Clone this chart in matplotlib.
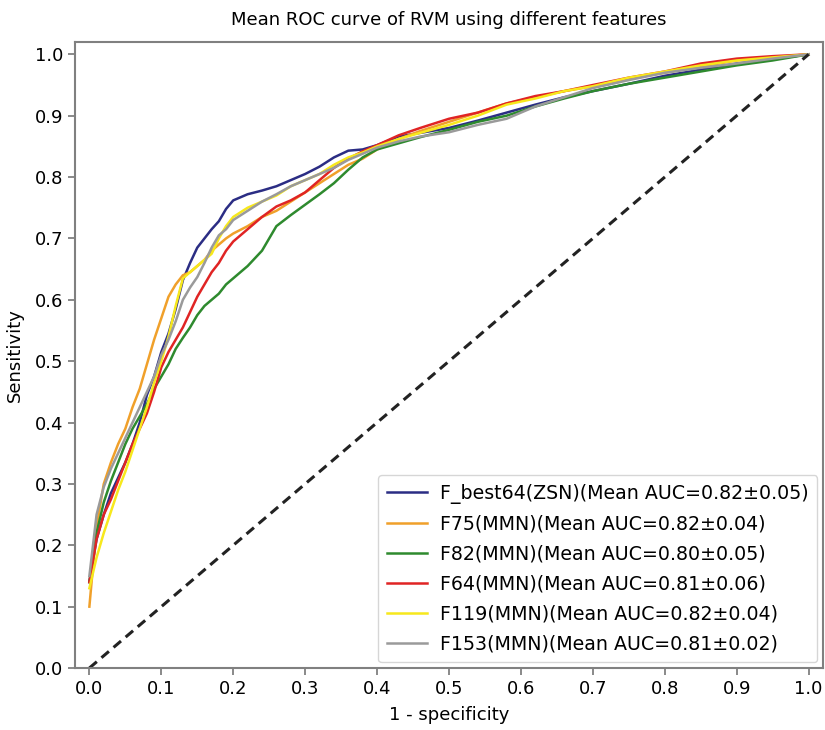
import matplotlib
matplotlib.use("Agg")
import matplotlib.pyplot as plt

plt.rcParams['font.family'] = ['DejaVu Sans']

# common false positive rate grid (1 - specificity)
fpr = [0, .01, .02, .03, .04, .05, .06, .07, .08, .09, .10, .11, .12, .13, .14,
       .15, .16, .17, .18, .19, .20, .22, .24, .26, .28, .30, .32, .34, .36, .38,
       .40, .43, .46, .50, .54, .58, .62, .66, .70, .75, .80, .85, .90, .95, 1.0]

tpr_best64 = [0.14, 0.21, 0.25, 0.285, 0.31, 0.335, 0.365, 0.40, 0.445, 0.475,
              0.515, 0.545, 0.585, 0.632, 0.66, 0.685, 0.70, 0.715, 0.728, 0.748,
              0.762, 0.772, 0.778, 0.785, 0.795, 0.805, 0.817, 0.832, 0.843, 0.845,
              0.852, 0.866, 0.872, 0.88, 0.892, 0.905, 0.918, 0.93, 0.94, 0.952,
              0.965, 0.975, 0.985, 0.992, 1.0]
tpr_f75 = [0.10, 0.23, 0.30, 0.335, 0.365, 0.39, 0.425, 0.455, 0.495, 0.535,
           0.57, 0.605, 0.625, 0.64, 0.645, 0.655, 0.665, 0.68, 0.69, 0.70,
           0.708, 0.72, 0.735, 0.745, 0.76, 0.775, 0.79, 0.805, 0.82, 0.83,
           0.845, 0.862, 0.875, 0.89, 0.905, 0.92, 0.93, 0.94, 0.948, 0.96,
           0.97, 0.98, 0.99, 0.995, 1.0]
tpr_f82 = [0.14, 0.22, 0.27, 0.305, 0.335, 0.365, 0.39, 0.41, 0.43, 0.455,
           0.475, 0.495, 0.52, 0.538, 0.555, 0.575, 0.59, 0.60, 0.61, 0.625,
           0.635, 0.655, 0.68, 0.72, 0.738, 0.755, 0.772, 0.79, 0.812, 0.832,
           0.845, 0.855, 0.865, 0.877, 0.89, 0.90, 0.915, 0.928, 0.94, 0.952,
           0.962, 0.972, 0.982, 0.99, 1.0]
tpr_f64 = [0.14, 0.21, 0.25, 0.275, 0.305, 0.335, 0.365, 0.39, 0.415, 0.45,
           0.49, 0.515, 0.535, 0.555, 0.58, 0.605, 0.625, 0.645, 0.66, 0.68,
           0.695, 0.715, 0.735, 0.752, 0.762, 0.775, 0.795, 0.815, 0.83, 0.842,
           0.852, 0.868, 0.88, 0.895, 0.905, 0.92, 0.932, 0.94, 0.95, 0.962,
           0.972, 0.985, 0.993, 0.997, 1.0]
tpr_f119 = [0.13, 0.18, 0.22, 0.255, 0.29, 0.32, 0.355, 0.39, 0.425, 0.465,
            0.50, 0.54, 0.59, 0.635, 0.645, 0.655, 0.665, 0.675, 0.70, 0.72,
            0.735, 0.75, 0.76, 0.77, 0.785, 0.795, 0.805, 0.82, 0.832, 0.84,
            0.85, 0.862, 0.872, 0.885, 0.90, 0.918, 0.928, 0.94, 0.948, 0.962,
            0.972, 0.982, 0.99, 0.995, 1.0]
tpr_f153 = [0.15, 0.25, 0.295, 0.325, 0.35, 0.375, 0.40, 0.425, 0.45, 0.475,
            0.51, 0.535, 0.565, 0.60, 0.62, 0.637, 0.66, 0.685, 0.705, 0.715,
            0.73, 0.745, 0.76, 0.772, 0.785, 0.795, 0.805, 0.815, 0.828, 0.838,
            0.848, 0.858, 0.866, 0.873, 0.885, 0.895, 0.915, 0.93, 0.945, 0.958,
            0.97, 0.978, 0.985, 0.993, 1.0]

labels = ["F_best64(ZSN)(Mean AUC=0.82\u00b10.05)",
          "F75(MMN)(Mean AUC=0.82\u00b10.04)",
          "F82(MMN)(Mean AUC=0.80\u00b10.05)",
          "F64(MMN)(Mean AUC=0.81\u00b10.06)",
          "F119(MMN)(Mean AUC=0.82\u00b10.04)",
          "F153(MMN)(Mean AUC=0.81\u00b10.02)"]
curves = [tpr_best64, tpr_f75, tpr_f82, tpr_f64, tpr_f119, tpr_f153]
colors = ['#2b2d84', '#f0a02a', '#2e8a2e', '#e02424', '#f7e81c', '#9a9a9a']

fig = plt.figure(figsize=(8.25, 7.3), dpi=100)
ax = fig.add_axes([0.0909, 0.0849, 0.9067, 0.8575])

for tpr, lab, col in zip(curves, labels, colors):
    ax.plot(fpr, tpr, color=col, lw=1.8, label=lab)

ax.plot([0, 1], [0, 1], color='#222222', lw=2.2, ls=(0, (3.2, 2)))

ax.set_xlim(-0.02, 1.02)
ax.set_ylim(0, 1.02)
ax.set_xticks([i / 10 for i in range(11)])
ax.set_yticks([i / 10 for i in range(11)])
ax.tick_params(labelsize=13, color='#808080', length=5, width=1.3)
for sp in ax.spines.values():
    sp.set_color('#808080')
    sp.set_linewidth(1.5)

ax.set_title("Mean ROC curve of RVM using different features", fontsize=13, pad=12)
ax.set_xlabel("1 - specificity", fontsize=13, labelpad=6)
ax.set_ylabel("Sensitivity", fontsize=13, labelpad=8)

leg = ax.legend(loc='lower right', fontsize=13.7, labelspacing=0.58,
                handlelength=2.1, handletextpad=0.7, borderpad=0.45,
                borderaxespad=0.3)
leg.get_frame().set_edgecolor('#cccccc')

fig.savefig("out.png", dpi=100)
